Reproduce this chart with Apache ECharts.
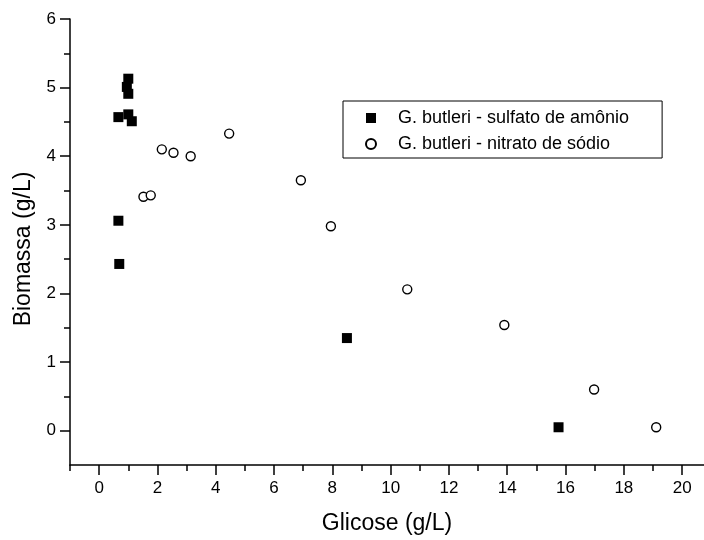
<!DOCTYPE html>
<html>
<head>
<meta charset="utf-8">
<script src="https://cdn.jsdelivr.net/npm/echarts@6/dist/echarts.min.js"></script>
<style>
  html, body { margin: 0; padding: 0; background: #fff; }
  #chart { width: 704px; height: 540px; }
</style>
</head>
<body>
<div id="chart"></div>
<script>
// ---- data ----
const seriesNames = ['G. butleri - sulfato de amônio', 'G. butleri - nitrato de sódio'];
const sulfatoX = [1.00, 0.95, 1.00, 0.66, 1.00, 1.12, 0.66, 0.69, 8.50, 15.76];
const sulfatoY = [5.13, 5.01, 4.91, 4.57, 4.61, 4.51, 3.06, 2.43, 1.35, 0.05];
const nitratoX = [1.52, 1.77, 2.15, 2.55, 3.14, 4.46, 6.92, 7.95, 10.57, 13.90, 16.98, 19.11];
const nitratoY = [3.41, 3.43, 4.10, 4.05, 4.00, 4.33, 3.65, 2.98, 2.06, 1.54, 0.60, 0.05];
const xMajorTicks = [0, 2, 4, 6, 8, 10, 12, 14, 16, 18, 20];
const xMinorTicks = [-1, 1, 3, 5, 7, 9, 11, 13, 15, 17, 19];
const yMajorTicks = [0, 1, 2, 3, 4, 5, 6];
const yMinorTicks = [0.5, 1.5, 2.5, 3.5, 4.5, 5.5];
const xTitle = 'Glicose (g/L)';
const yTitle = 'Biomassa (g/L)';

const FONT = "'Liberation Sans', Arial, sans-serif";
const zip = (xs, ys) => xs.map((x, i) => [x, ys[i]]);

const chart = echarts.init(document.getElementById('chart'), null, { renderer: 'canvas' });
const baseX = { type: 'value', min: -1, max: 20.75, splitLine: { show: false } };
const baseY = { type: 'value', min: -0.5, max: 6, splitLine: { show: false } };

chart.setOption({
  backgroundColor: '#ffffff',
  animation: false,
  grid: { left: 70, top: 19, right: 0, bottom: 74, containLabel: false },
  xAxis: [
    Object.assign({}, baseX, {
      position: 'bottom',
      name: xTitle,
      nameLocation: 'middle',
      nameGap: 47,
      nameTextStyle: { fontFamily: FONT, fontSize: 23, color: '#000' },
      axisLine: { show: true, onZero: false, lineStyle: { color: '#000', width: 1.5 } },
      axisTick: { show: true, inside: false, length: 10, customValues: xMajorTicks, lineStyle: { color: '#000', width: 1.5 } },
      axisLabel: { show: true, margin: 15, customValues: xMajorTicks, fontFamily: FONT, fontSize: 17, color: '#000' }
    }),
    Object.assign({}, baseX, {
      position: 'bottom',
      axisLine: { show: false, onZero: false },
      axisTick: { show: true, inside: false, length: 6, customValues: xMinorTicks, lineStyle: { color: '#000', width: 1.5 } },
      axisLabel: { show: false }
    })
  ],
  yAxis: [
    Object.assign({}, baseY, {
      position: 'left',
      name: yTitle,
      nameLocation: 'middle',
      nameGap: 28,
      nameTextStyle: { fontFamily: FONT, fontSize: 23, color: '#000', padding: [0, 14, 0, 0] },
      axisLine: { show: true, onZero: false, lineStyle: { color: '#000', width: 1.5 } },
      axisTick: { show: true, inside: false, length: 10, customValues: yMajorTicks, lineStyle: { color: '#000', width: 1.5 } },
      axisLabel: { show: true, margin: 14, customValues: yMajorTicks, fontFamily: FONT, fontSize: 17, color: '#000' }
    }),
    Object.assign({}, baseY, {
      position: 'left',
      axisLine: { show: false, onZero: false },
      axisTick: { show: true, inside: false, length: 6, customValues: yMinorTicks, lineStyle: { color: '#000', width: 1.5 } },
      axisLabel: { show: false }
    })
  ],
  legend: {
    orient: 'vertical',
    left: 343,
    top: 101,
    padding: [8, 33, 5, 22],
    itemGap: 8,
    itemWidth: 10,
    itemHeight: 10,
    borderColor: '#000',
    borderWidth: 1,
    backgroundColor: '#fff',
    textStyle: { fontFamily: FONT, fontSize: 18, color: '#000', padding: [0, 0, 0, 17] },
    data: seriesNames
  },
  series: [
    {
      name: seriesNames[0],
      type: 'scatter',
      xAxisIndex: 0, yAxisIndex: 0,
      symbol: 'rect',
      symbolSize: 10,
      itemStyle: { color: '#000', borderColor: '#000', borderWidth: 0, opacity: 1 },
      data: zip(sulfatoX, sulfatoY)
    },
    {
      name: seriesNames[1],
      type: 'scatter',
      xAxisIndex: 0, yAxisIndex: 0,
      symbol: 'circle',
      symbolSize: 9,
      itemStyle: { color: '#fff', borderColor: '#000', borderWidth: 1.4, opacity: 1 },
      data: zip(nitratoX, nitratoY)
    }
  ]
});
</script>
</body>
</html>
